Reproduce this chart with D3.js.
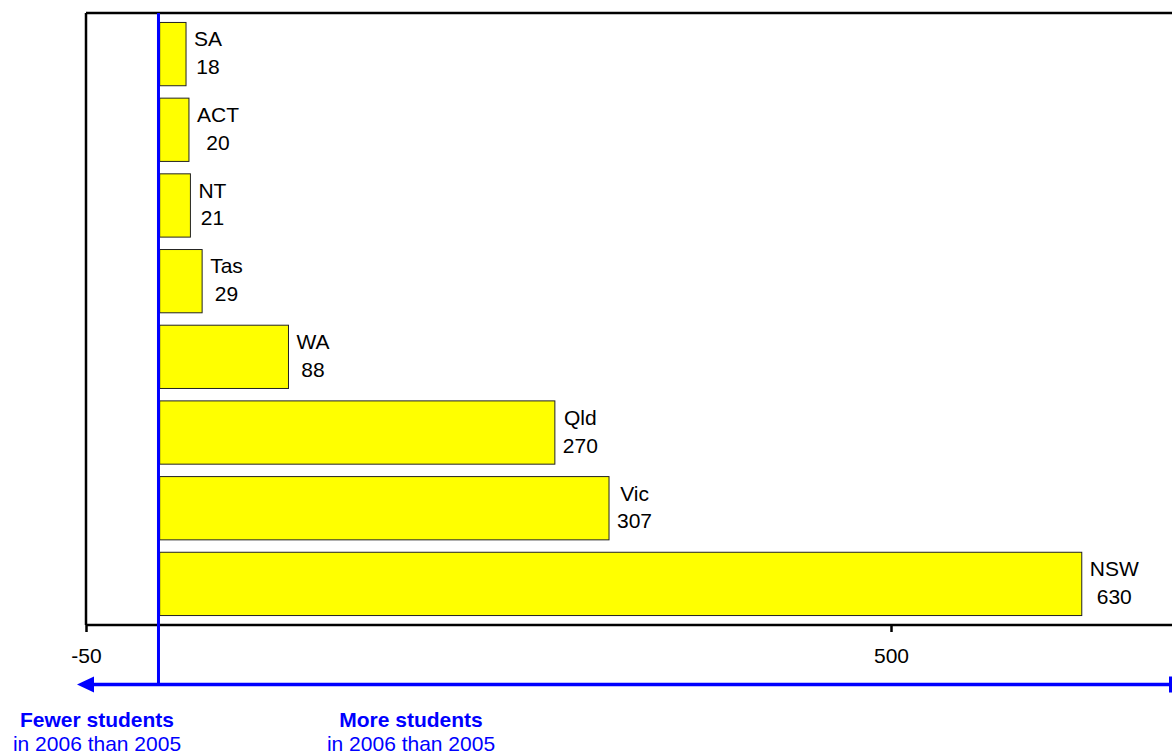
<!DOCTYPE html>
<html>
<head>
<meta charset="utf-8">
<script src="https://cdn.jsdelivr.net/npm/d3@7"></script>
<style>
  html, body { margin: 0; padding: 0; background: #fff; }
  svg { display: block; font-family: "Liberation Sans", Arial, sans-serif; }
</style>
</head>
<body>
<svg id="chart" width="1172" height="753"></svg>
<script>
// Change in student numbers, 2005 to 2006, by state / territory
const states = ["SA", "ACT", "NT", "Tas", "WA", "Qld", "Vic", "NSW"];
const changes = [18, 20, 21, 29, 88, 270, 307, 630];
const tickValues = [-50, 500];
const leftNote = ["Fewer students", "in 2006 than 2005"];
const rightNote = ["More students", "in 2006 than 2005"];

const W = 1172, H = 753;
const plot = { left: 86, top: 13, bottom: 625, right: W };
const blue = "#0000ff";
const fontSize = 21;

const svg = d3.select("#chart");

const x = d3.scaleLinear().domain([-50, 500]).range([86, 891]);
const y = d3.scaleBand()
  .domain(states)
  .range([plot.top, plot.bottom])
  .paddingInner(0.164)
  .paddingOuter(0.125);

// Bars
svg.append("g").selectAll("rect")
  .data(states)
  .join("rect")
  .attr("x", x(0) + 0.5)
  .attr("y", d => y(d))
  .attr("width", (d, i) => x(changes[i]) - x(0))
  .attr("height", y.bandwidth())
  .attr("fill", "#ffff00")
  .attr("stroke", "#222")
  .attr("stroke-width", 1);

// Two-line labels (name over value), centred as a block just past the bar end
const labels = svg.append("g")
  .attr("font-size", fontSize)
  .attr("fill", "#000");
states.forEach((s, i) => {
  const cy = y(s) + y.bandwidth() / 2;
  const g = labels.append("g");
  const t1 = g.append("text").attr("y", cy - 7.7).attr("text-anchor", "middle").text(s);
  const t2 = g.append("text").attr("y", cy + 20).attr("text-anchor", "middle").text(changes[i]);
  const w = Math.max(t1.node().getComputedTextLength(), t2.node().getComputedTextLength());
  const cx = x(changes[i]) + 8.5 + w / 2;
  t1.attr("x", cx);
  t2.attr("x", cx);
});

// Plot frame: top and left edges, bottom axis line
const frame = svg.append("g").attr("stroke", "#000").attr("stroke-width", 2.5).attr("fill", "none");
frame.append("line").attr("x1", plot.left).attr("x2", plot.right).attr("y1", plot.top).attr("y2", plot.top);
frame.append("line").attr("x1", plot.left).attr("x2", plot.left).attr("y1", plot.top).attr("y2", plot.bottom);
frame.append("line").attr("x1", plot.left).attr("x2", plot.right).attr("y1", plot.bottom).attr("y2", plot.bottom);

// X axis ticks and labels (plain hyphen for negatives)
const axis = svg.append("g")
  .attr("transform", `translate(0,${plot.bottom})`)
  .call(d3.axisBottom(x)
    .tickValues(tickValues)
    .tickFormat(d => String(d))
    .tickSize(7).tickSizeOuter(0).tickPadding(16));
axis.select(".domain").remove();
axis.selectAll(".tick line").attr("stroke", "#000").attr("stroke-width", 2.5);
axis.selectAll(".tick text")
  .attr("font-size", fontSize)
  .attr("font-family", "Liberation Sans, Arial, sans-serif")
  .attr("fill", "#000");

// Zero line and direction arrow
const arrowY = 684.5;
svg.append("line")
  .attr("x1", x(0) - 0.7).attr("x2", x(0) - 0.7)
  .attr("y1", plot.top).attr("y2", arrowY)
  .attr("stroke", blue).attr("stroke-width", 3);
svg.append("line")
  .attr("x1", 90).attr("x2", 1171)
  .attr("y1", arrowY).attr("y2", arrowY)
  .attr("stroke", blue).attr("stroke-width", 3.5);
svg.append("path")
  .attr("d", `M77,${arrowY} L94,${arrowY - 8} L94,${arrowY + 8} Z`)
  .attr("fill", blue);
svg.append("line")
  .attr("x1", 1170.5).attr("x2", 1170.5)
  .attr("y1", arrowY - 8).attr("y2", arrowY + 8)
  .attr("stroke", blue).attr("stroke-width", 3);

// Direction notes under the arrow
function note(lines, cx) {
  const g = svg.append("g").attr("fill", blue).attr("font-size", fontSize).attr("text-anchor", "middle");
  g.append("text").attr("x", cx).attr("y", 727).attr("font-weight", "bold").text(lines[0]);
  g.append("text").attr("x", cx).attr("y", 750.5).text(lines[1]);
}
note(leftNote, 97);
note(rightNote, 411);
</script>
</body>
</html>
